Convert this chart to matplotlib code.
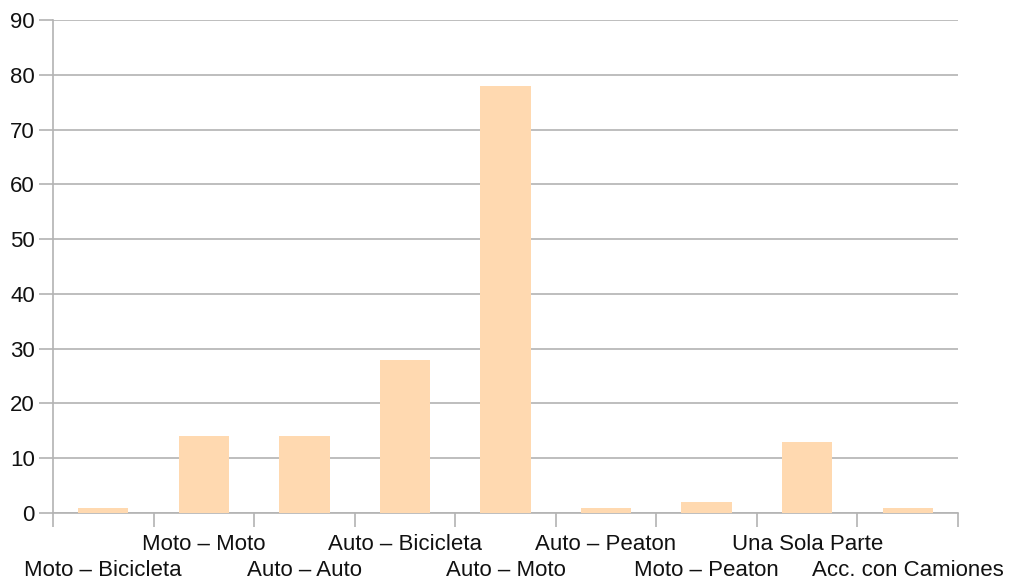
import numpy as np
import matplotlib.pyplot as plt

categorias = ['Moto – Bicicleta', 'Moto – Moto', 'Auto – Auto', 'Auto – Bicicleta',
              'Auto – Moto', 'Auto – Peaton', 'Moto – Peaton', 'Una Sola Parte',
              'Acc. con Camiones']
valores = [1, 14, 14, 28, 78, 1, 2, 13, 1]

plt.rcParams['font.family'] = ['Liberation Sans', 'DejaVu Sans']

fig = plt.figure(figsize=(10.09, 5.79), dpi=100)
ax = fig.add_axes([53 / 1009, 66 / 579, 905 / 1009, 493 / 579])

x = np.arange(len(categorias))
ax.bar(x, valores, width=0.5, color='#ffd9b0', zorder=3)

ax.set_xlim(-0.5, len(categorias) - 0.5)
ax.set_ylim(0, 90)
ax.set_yticks(range(0, 91, 10))
ax.grid(axis='y', color='#b3b3b3', linewidth=1.2, zorder=0)

gris = '#b3b3b3'
for lado in ['top', 'right']:
    ax.spines[lado].set_visible(False)
for lado in ['left', 'bottom']:
    ax.spines[lado].set_color(gris)
    ax.spines[lado].set_linewidth(1.2)

ax.tick_params(axis='y', length=10, color=gris, width=1.2, labelsize=16,
               labelcolor='#111111', pad=3)

# etiquetas centradas, alternando dos filas
ax.set_xticks(x)
ax.set_xticklabels(categorias)
ax.tick_params(axis='x', which='major', length=0, labelsize=16, labelcolor='#111111')
for i, lab in enumerate(ax.get_xticklabels()):
    if i % 2 == 1:
        lab.set_y(-0.032)
    else:
        lab.set_y(-0.085)

# marcas en los limites de cada categoria
ax.set_xticks(np.arange(-0.5, len(categorias)), minor=True)
ax.tick_params(axis='x', which='minor', length=10, color=gris, width=1.2)

fig.savefig('out.png', dpi=100)
